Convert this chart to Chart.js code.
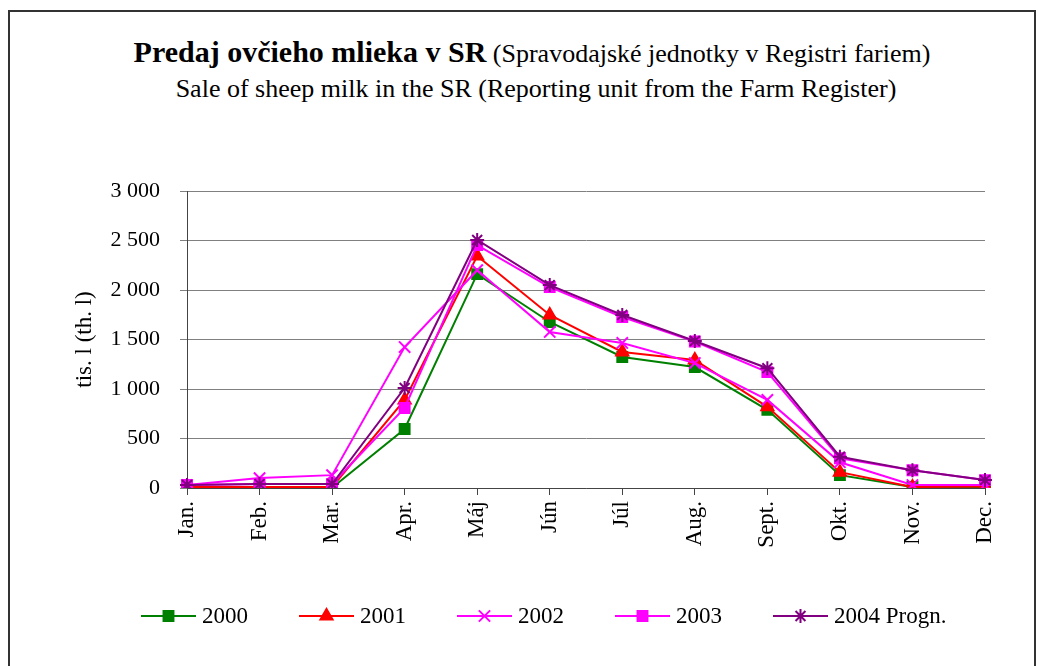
<!DOCTYPE html>
<html>
<head>
<meta charset="utf-8">
<script src="https://cdn.jsdelivr.net/npm/chart.js@4/dist/chart.umd.min.js"></script>
<style>
  html, body { margin: 0; padding: 0; background: #fff; }
  #wrap { position: relative; width: 1038px; height: 666px; overflow: hidden; }
  #frame { position: absolute; left: 8px; top: 10px; width: 1028px; height: 660px; border: 2px solid #333; box-sizing: border-box; }
  .ttl { position: absolute; left: 0; text-align: center; font-family: "Liberation Serif", serif; color: #000; white-space: nowrap; }
  #t1 { top: 35px; width: 1064px; font-size: 26px; }
  #t1 b { font-size: 30px; }
  #t2 { top: 74px; width: 1072px; font-size: 26px; }
  canvas { position: absolute; left: 0; top: 0; }
</style>
</head>
<body>
<div id="wrap">
  <div id="frame"></div>
  <div class="ttl" id="t1"><b>Predaj ovčieho mlieka v SR</b> (Spravodajské jednotky v Registri fariem)</div>
  <div class="ttl" id="t2">Sale of sheep milk in the SR (Reporting unit from the Farm Register)</div>
  <canvas id="milkChart" width="1038" height="666"></canvas>
</div>
<script>
// mesiace (os x)
const months = ['Jan.', 'Feb.', 'Mar.', 'Apr.', 'Máj', 'Jún', 'Júl', 'Aug.', 'Sept.', 'Okt.', 'Nov.', 'Dec.'];
// predaj v tis. l, odčítané z grafu
const sales2000 = [5, 3, 3, 596, 2160, 1677, 1323, 1222, 790, 130, 10, 5];
const sales2001 = [10, 10, 10, 889, 2343, 1748, 1374, 1293, 820, 160, 10, 15];
const sales2002 = [30, 100, 130, 1424, 2200, 1576, 1465, 1262, 890, 260, 30, 30];
const sales2003 = [30, 40, 40, 808, 2454, 2030, 1727, 1480, 1170, 300, 180, 80];
const sales2004 = [30, 40, 40, 1010, 2505, 2050, 1748, 1485, 1210, 316, 180, 80];
const seriesNames = ['2000', '2001', '2002', '2003', '2004 Progn.'];
const yTicks = [0, 500, 1000, 1500, 2000, 2500, 3000];

const fmt = v => String(v).replace(/\B(?=(\d{3})+(?!\d))/g, ' ');

// legenda: ciara + znacka ako v Exceli
const lineLegend = {
    id: 'lineLegend',
    afterDraw(chart) {
        const ctx = chart.ctx;
        const y = 616;
        let x = 141;
        ctx.save();
        chart.data.datasets.forEach(ds => {
            ctx.strokeStyle = ds.borderColor;
            ctx.lineWidth = 2;
            ctx.beginPath();
            ctx.moveTo(x, y);
            ctx.lineTo(x + 55, y);
            ctx.stroke();
            ctx.fillStyle = ds.pointBackgroundColor;
            ctx.strokeStyle = ds.pointBorderColor;
            ctx.lineWidth = ds.pointBorderWidth;
            Chart.helpers.drawPoint(ctx, { pointStyle: ds.pointStyle, radius: ds.pointRadius, borderWidth: ds.pointBorderWidth, rotation: 0 }, x + 27.5, y);
            ctx.fillStyle = '#000';
            ctx.font = '23px "Liberation Serif"';
            ctx.textBaseline = 'middle';
            ctx.textAlign = 'left';
            ctx.fillText(ds.label, x + 61, y + 1);
            x += 158;
        });
        ctx.restore();
    }
};

function series(label, data, color, style, radius, order) {
    return {
        label: label,
        data: data,
        borderColor: color,
        backgroundColor: color,
        borderWidth: 2,
        pointStyle: style,
        pointRadius: radius,
        pointHoverRadius: radius,
        pointBackgroundColor: color,
        pointBorderColor: color,
        pointBorderWidth: 2,
        tension: 0,
        order: order
    };
}

new Chart(document.getElementById('milkChart'), {
    type: 'line',
    data: {
        labels: months,
        datasets: [
            series(seriesNames[0], sales2000, '#008000', 'rect', 7, 5),
            series(seriesNames[1], sales2001, '#FF0000', 'triangle', 7, 4),
            series(seriesNames[2], sales2002, '#FF00FF', 'crossRot', 8, 3),
            series(seriesNames[3], sales2003, '#FF00FF', 'rect', 7, 2),
            series(seriesNames[4], sales2004, '#800080', 'star', 7, 1)
        ]
    },
    options: {
        responsive: false,
        animation: false,
        layout: { padding: { top: 191, left: 67, right: 53, bottom: 98 } },
        plugins: {
            legend: { display: false },
            title: { display: false },
            tooltip: { enabled: false }
        },
        scales: {
            x: {
                offset: false,
                afterFit: s => { s.height = 80; },
                grid: { drawOnChartArea: false, drawTicks: true, tickLength: 7, color: '#444', lineWidth: 1 },
                border: { color: '#444', width: 1 },
                ticks: {
                    maxRotation: 90, minRotation: 90, autoSkip: false, padding: 6,
                    color: '#000', font: { family: 'Liberation Serif', size: 23 }
                }
            },
            y: {
                min: 0,
                max: 3000,
                afterFit: s => { s.width = 120; },
                afterBuildTicks: s => { s.ticks = yTicks.map(v => ({ value: v })); },
                grid: { color: '#808080', lineWidth: 1, tickLength: 7 },
                border: { color: '#444', width: 1 },
                title: {
                    display: true, text: 'tis. l (th. l)', color: '#000',
                    font: { family: 'Liberation Serif', size: 23 }
                },
                ticks: {
                    padding: 20, color: '#000',
                    font: { family: 'Liberation Serif', size: 22 },
                    callback: v => fmt(v)
                }
            }
        }
    },
    plugins: [lineLegend]
});
</script>
</body>
</html>
